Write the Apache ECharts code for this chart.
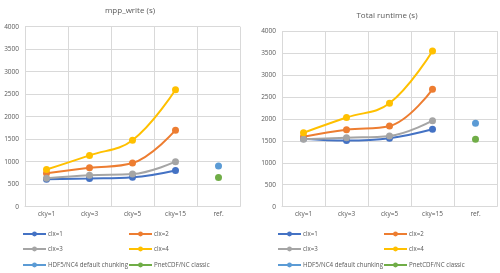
<!DOCTYPE html>
<html><head><meta charset="utf-8">
<script src="https://cdn.jsdelivr.net/npm/echarts@6/dist/echarts.min.js"></script>
<style>html,body{margin:0;padding:0;background:#fff}#c{width:500px;height:273px}</style>
</head><body><div id="c"></div>
<script>
const categories = ['cky=1','cky=3','cky=5','cky=15','ref.'];
const yTicks = [0,500,1000,1500,2000,2500,3000,3500,4000];
const seriesNames = ['clx=1','clx=2','clx=3','clx=4','HDF5/NC4 default chunking','PnetCDF/NC classic'];
const colors = ['#4472C4','#ED7D31','#A5A5A5','#FFC000','#5B9BD5','#70AD47'];
// mpp_write (s)
const writeClx1 = [610, 625, 652, 805];
const writeClx2 = [745, 865, 970, 1700];
const writeClx3 = [630, 700, 725, 1000];
const writeClx4 = [825, 1140, 1478, 2600];
const writeHdf5 = 905;
const writePnet = 648;
// Total runtime (s)
const totalClx1 = [1548, 1505, 1557, 1762];
const totalClx2 = [1594, 1753, 1837, 2673];
const totalClx3 = [1534, 1571, 1610, 1958];
const totalClx4 = [1685, 2030, 2354, 3545];
const totalHdf5 = 1898;
const totalPnet = 1534;

const font = 'Open Sans, Noto Sans, sans-serif';
const chart = echarts.init(document.getElementById('c'));
function xAx(gi){return {type:'category',gridIndex:gi,data:categories,boundaryGap:true,
  axisLine:{show:true,lineStyle:{color:'#d9d9d9'}},axisTick:{show:false},
  axisLabel:{color:'#595959',fontSize:6.5,fontFamily:font,margin:4},
  splitLine:{show:true,lineStyle:{color:'#d9d9d9',width:1}}};}
function yAx(gi){return {type:'value',gridIndex:gi,min:yTicks[0],max:yTicks[yTicks.length-1],interval:500,
  axisLine:{show:false},axisTick:{show:false},
  axisLabel:{color:'#595959',fontSize:6.5,fontFamily:font,margin:6,formatter:function(v){return String(v);}},
  splitLine:{show:true,lineStyle:{color:'#d9d9d9',width:1}}};}
function lineS(name,ci,gi,data){return {name:name,type:'line',xAxisIndex:gi,yAxisIndex:gi,data:data,smooth:0.4,
  symbol:'circle',symbolSize:7,lineStyle:{width:2,color:colors[ci]},itemStyle:{color:colors[ci]},z:3};}
function refS(name,ci,gi,v){const d=[null,null,null,null,v];return {name:name,type:'line',xAxisIndex:gi,yAxisIndex:gi,data:d,
  symbol:'circle',symbolSize:7,lineStyle:{width:2,color:colors[ci]},itemStyle:{color:colors[ci]},z:3};}
const legends=[];
const legPos=[[[22,231],[128,231],[22,246],[128,246],[22,262],[128,262]],[[277,231],[383,231],[277,246],[383,246],[277,262],[383,262]]];
for(let g=0;g<2;g++){for(let i=0;i<6;i++){legends.push({data:[seriesNames[i]],left:legPos[g][i][0],top:legPos[g][i][1],
  itemWidth:23,itemHeight:6,itemGap:0,padding:0,textStyle:{color:'#595959',fontSize:6.2,fontFamily:font,padding:[0,0,0,-3]},
  selectedMode:false});}}
chart.setOption({
  animation:false,
  title:[{text:'mpp_write (s)',left:125,top:2,textAlign:'center',textStyle:{color:'#595959',fontSize:8,fontWeight:'normal',fontFamily:font}},
         {text:'Total runtime (s)',left:382,top:7,textAlign:'center',textStyle:{color:'#595959',fontSize:8,fontWeight:'normal',fontFamily:font}}],
  legend:legends,
  grid:[{left:25,right:260,top:26.7,bottom:66.3},{left:282,right:3,top:31,bottom:66.3}],
  xAxis:[xAx(0),xAx(1)],
  yAxis:[yAx(0),yAx(1)],
  series:[
    lineS(seriesNames[0],0,0,writeClx1),lineS(seriesNames[1],1,0,writeClx2),lineS(seriesNames[2],2,0,writeClx3),lineS(seriesNames[3],3,0,writeClx4),
    refS(seriesNames[4],4,0,writeHdf5),refS(seriesNames[5],5,0,writePnet),
    lineS(seriesNames[0],0,1,totalClx1),lineS(seriesNames[1],1,1,totalClx2),lineS(seriesNames[2],2,1,totalClx3),lineS(seriesNames[3],3,1,totalClx4),
    refS(seriesNames[4],4,1,totalHdf5),refS(seriesNames[5],5,1,totalPnet)
  ]
});
</script></body></html>
